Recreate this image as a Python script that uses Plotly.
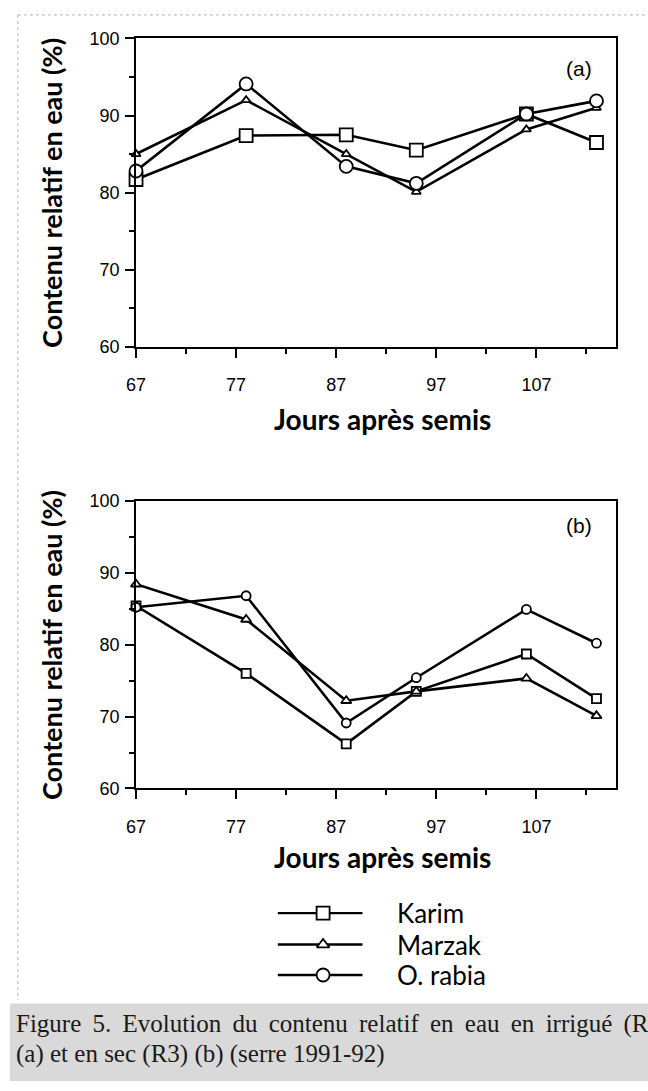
import plotly.graph_objects as go

# ---------------- data ----------------
days = [67, 78, 88, 95, 106, 113]
series_names = ["Karim", "Marzak", "O. rabia"]

# panel (a) : irrigué
karim_a = [81.7, 87.4, 87.5, 85.5, 90.2, 86.5]
marzak_a = [85.0, 92.0, 85.0, 80.1, 88.2, 91.0]
rabia_a = [82.8, 94.1, 83.4, 81.2, 90.2, 91.9]

# panel (b) : sec
karim_b = [85.4, 76.0, 66.2, 73.5, 78.7, 72.5]
marzak_b = [88.4, 83.5, 72.2, 73.5, 75.3, 70.1]
rabia_b = [85.2, 86.8, 69.1, 75.4, 84.9, 80.2]

# ---------------- layout constants ----------------
W, H = 648, 1091
def px(x):
    return x / W
def py(y):
    return 1 - y / H

symbols = ["square", "triangle-up", "circle"]
top_sizes = [13, 8, 13]
bot_sizes = [9, 9, 9]

fig = go.Figure()

panels = [
    ("x", "y", [karim_a, marzak_a, rabia_a], top_sizes),
    ("x2", "y2", [karim_b, marzak_b, rabia_b], bot_sizes),
]
for xa, ya, vals, sizes in panels:
    for name, v, sym, sz in zip(series_names, vals, symbols, sizes):
        fig.add_trace(go.Scatter(
            x=days, y=v, mode="lines+markers", name=name, showlegend=False,
            xaxis=xa, yaxis=ya,
            line=dict(color="black", width=2.6),
            marker=dict(symbol=sym, size=sz, color="white",
                        line=dict(color="black", width=1.8)),
            cliponaxis=False,
        ))

# custom legend (keys drawn on a hidden pixel axis)
leg_rows = [920, 952, 983]
leg_x0, leg_xm, leg_x1 = 272, 318, 358
leg_sizes = [13, 11, 13]
for name, sym, row, sz in zip(series_names, symbols, leg_rows, leg_sizes):
    fig.add_trace(go.Scatter(
        x=[leg_x0, leg_x1], y=[row, row], mode="lines", showlegend=False,
        xaxis="x3", yaxis="y3", line=dict(color="black", width=2.4),
        hoverinfo="skip"))
    fig.add_trace(go.Scatter(
        x=[leg_xm], y=[row], mode="markers", showlegend=False,
        xaxis="x3", yaxis="y3",
        marker=dict(symbol=sym, size=sz, color="white",
                    line=dict(color="black", width=1.8)),
        hoverinfo="skip"))

tickfont = dict(family="Liberation Sans, Arial, sans-serif", size=18, color="black")
title_font = dict(family="Lato, Open Sans, sans-serif", size=27, color="black")

def xaxis_cfg(anchor):
    return dict(
        domain=[px(128), px(616)], range=[67, 115], anchor=anchor,
        tickmode="linear", tick0=67, dtick=10,
        ticks="outside", ticklen=9, tickwidth=1.6, tickcolor="black",
        minor=dict(tick0=67, dtick=5, ticks="outside",
                   ticklen=5, tickwidth=1.6, tickcolor="black", showgrid=False),
        showline=True, linecolor="black", linewidth=2, mirror=True,
        showgrid=False, zeroline=False, tickfont=tickfont,
        ticklabelstandoff=12, fixedrange=True,
    )

def yaxis_cfg(dom, anchor):
    return dict(
        domain=dom, range=[60, 100], anchor=anchor,
        tickmode="linear", tick0=60, dtick=10,
        ticks="outside", ticklen=9, tickwidth=1.6, tickcolor="black",
        minor=dict(tick0=60, dtick=5, ticks="outside",
                   ticklen=5, tickwidth=1.6, tickcolor="black", showgrid=False),
        showline=True, linecolor="black", linewidth=2, mirror=True,
        showgrid=False, zeroline=False, tickfont=tickfont,
        ticklabelstandoff=2, fixedrange=True,
    )

top_dom = [py(343), py(29)]
bot_dom = [py(793), py(500)]

fig.update_layout(
    width=W, height=H, autosize=False,
    margin=dict(l=0, r=0, t=0, b=0),
    paper_bgcolor="white", plot_bgcolor="rgba(0,0,0,0)",
    showlegend=False,
    xaxis=xaxis_cfg("y"),
    yaxis=yaxis_cfg(top_dom, "x"),
    xaxis2=xaxis_cfg("y2"),
    yaxis2=yaxis_cfg(bot_dom, "x2"),
    xaxis3=dict(domain=[0, 1], range=[0, W], visible=False, anchor="y3", fixedrange=True),
    yaxis3=dict(domain=[0, 1], range=[H, 0], visible=False, anchor="x3", fixedrange=True),
)

ann = []
# y-axis titles
for yc in [(29 + 343) / 2, (500 + 793) / 2]:
    ann.append(dict(text="<b>Contenu relatif en eau (%)</b>", x=px(42), y=py(yc),
                    xref="paper", yref="paper", textangle=-90, showarrow=False,
                    font=title_font, xanchor="center", yanchor="middle"))
# x-axis titles
for yc in [417, 863]:
    ann.append(dict(text="<b>Jours après semis</b>", x=px(378), y=py(yc),
                    xref="paper", yref="paper", showarrow=False,
                    font=dict(family="Lato, Open Sans, sans-serif", size=28, color="black"),
                    xanchor="center", yanchor="middle"))
# panel letters
for lab, yc in [("(a)", 60), ("(b)", 525)]:
    ann.append(dict(text=lab, x=px(578), y=py(yc), xref="paper", yref="paper",
                    showarrow=False, xanchor="center", yanchor="middle",
                    font=dict(family="Liberation Sans, Arial, sans-serif", size=21, color="black")))
# legend labels
for name, row in zip(series_names, leg_rows):
    ann.append(dict(text=name, x=px(391), y=py(row), xref="paper", yref="paper",
                    showarrow=False, xanchor="left", yanchor="middle",
                    font=dict(family="Lato, Open Sans, sans-serif", size=26, color="black")))
# caption (first line justified in the source -> slightly wider word gaps)
cap_font = dict(family="Liberation Serif, Times New Roman, serif", size=25, color="#1a1a1a")
line1 = "Figure 5. Evolution du contenu relatif en eau en irrigué (R"
ann.append(dict(text=line1.replace(" ", " \u2009"),
                x=px(4), y=py(1033), xref="paper", yref="paper", showarrow=False,
                xanchor="left", yanchor="middle", font=cap_font))
ann.append(dict(text="(a) et en sec (R3) (b) (serre 1991-92)",
                x=px(4), y=py(1063), xref="paper", yref="paper", showarrow=False,
                xanchor="left", yanchor="middle", font=cap_font))

shapes = [
    dict(type="rect", xref="paper", yref="paper", x0=0, x1=1, y0=0, y1=py(1012),
         fillcolor="#d9d9d9", line=dict(width=0), layer="below"),
    dict(type="line", xref="paper", yref="paper", x0=px(8), x1=1, y0=py(5), y1=py(5),
         line=dict(color="#b0b0b0", width=1, dash="dot")),
    dict(type="line", xref="paper", yref="paper", x0=px(8), x1=px(8), y0=py(5), y1=py(1008),
         line=dict(color="#b0b0b0", width=1, dash="dot")),
]

fig.update_layout(annotations=ann, shapes=shapes)
fig.write_html("out.html")
